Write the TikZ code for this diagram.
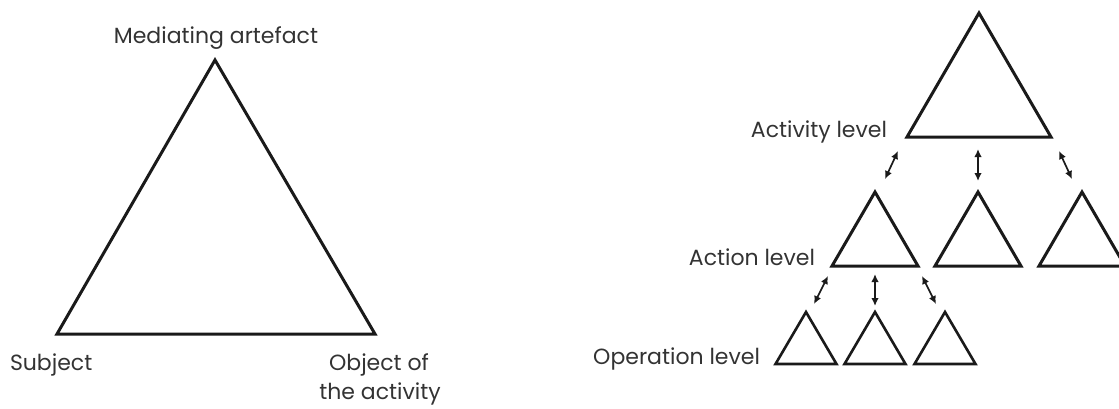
\documentclass[tikz,border=0pt]{standalone}
\usepackage{fontspec}
\setmainfont{Poppins}
\usetikzlibrary{arrows.meta}
\definecolor{ink}{HTML}{1A1A1A}
\definecolor{txt}{HTML}{333333}
\tikzset{
  tri/.style={draw=ink, line width=3pt, line join=miter},
  smalltri/.style={draw=ink, line width=2.6pt, line join=miter},
  dbl/.style={draw=ink, line width=1.7pt, {Latex[length=8pt,width=7.5pt]}-{Latex[length=8pt,width=7.5pt]}},
  lbl/.style={text=txt, font=\fontsize{22}{30}\selectfont, inner sep=0pt, outer sep=0pt}
}
\begin{document}
\begin{tikzpicture}[x=1pt,y=-1pt]
\useasboundingbox (0,0) rectangle (1119,408);
\clip (0,0) rectangle (1119,408);
% left triangle
\draw[tri] (215,60) -- (375,334) -- (57,334) -- cycle;
\node[lbl, anchor=base] (med) at (216,43) {Mediating artefact};
\node[lbl, anchor=base west] (subj) at (10,370) {Subject};
\node[lbl, anchor=base] (obj1) at (379,370) {Object of};
\node[lbl, anchor=base] (obj2) at (380,399) {the activity};
% activity level
\draw[tri] (979,13) -- (1051,137) -- (907,137) -- cycle;
\node[lbl, anchor=base east] (actl) at (887,137) {Activity level};
% action level
\foreach \x in {875,978,1082}{
  \draw[tri] (\x,192) -- (\x+43,266) -- (\x-43,266) -- cycle;
}
\node[lbl, anchor=base east] (acnl) at (815,265) {Action level};
% operation level
\foreach \x in {806,875,945}{
  \draw[smalltri] (\x,312) -- (\x+30.5,364) -- (\x-30.5,364) -- cycle;
}
\node[lbl, anchor=base east] (opl) at (760,364) {Operation level};
% arrows between levels
\coordinate (a1t) at (898,151); \coordinate (a1b) at (885,179);
\coordinate (a2t) at (978,149); \coordinate (a2b) at (978,181);
\coordinate (a3t) at (1059,151); \coordinate (a3b) at (1072,179);
\coordinate (b1t) at (828,276); \coordinate (b1b) at (814,304);
\coordinate (b2t) at (875,274); \coordinate (b2b) at (875,306);
\coordinate (b3t) at (922,276); \coordinate (b3b) at (936,304);
\draw[dbl] (a1t) -- (a1b);
\draw[dbl] (a2t) -- (a2b);
\draw[dbl] (a3t) -- (a3b);
\draw[dbl] (b1t) -- (b1b);
\draw[dbl] (b2t) -- (b2b);
\draw[dbl] (b3t) -- (b3b);
\end{tikzpicture}
\end{document}
